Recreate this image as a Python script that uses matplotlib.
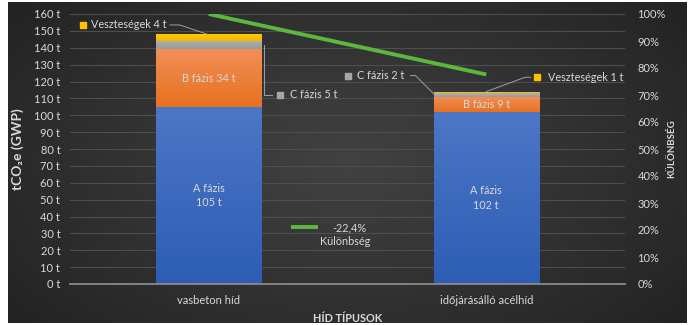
import numpy as np
import matplotlib
matplotlib.use("Agg")
import matplotlib.pyplot as plt
from matplotlib.colors import to_rgb

plt.rcParams['font.family'] = ['Lato', 'DejaVu Sans']

# ---- data ----
categories = ["vasbeton híd", "időjárásálló acélhíd"]
phase_a = [105, 102]
phase_b = [34, 9]
phase_c = [5, 2]
losses = [4, 1]
difference_pct = [100, 77.6]
left_ticks = list(range(0, 161, 10))
right_ticks = list(range(0, 101, 10))

TXT = "#d9d9d9"
SERIES = [
    (phase_a, ("#4d77c6", "#2d5db5")),
    (phase_b, ("#f28f58", "#e7711f")),
    (phase_c, ("#b0b0b0", "#9a9a9a")),
    (losses, ("#ffc800", "#f5b800")),
]
C_C, C_V = "#a5a5a5", "#ffc000"
GREEN = "#5cb83c"

W, H = 691, 325
fig = plt.figure(figsize=(W / 100, H / 100), dpi=100, facecolor="white")

# dark background panel with radial gradient
bg = fig.add_axes([8 / W, 2 / H, 679 / W, 321 / H])
yy, xx = np.mgrid[0:1:200j, 0:1:400j]
r = np.sqrt(((xx - 0.5) / 0.75) ** 2 + ((yy - 0.5) / 0.9) ** 2)
r = np.clip(r, 0, 1)
c0 = np.array([0x42, 0x42, 0x42]) / 255
c1 = np.array([0x1e, 0x1e, 0x1e]) / 255
img = c0[None, None, :] * (1 - r[..., None]) + c1[None, None, :] * r[..., None]
bg.imshow(img, aspect="auto", extent=[0, 1, 0, 1])
bg.set_axis_off()

ax = fig.add_axes([70 / W, 41 / H, 555 / W, 270 / H])
ax.set_facecolor("none")
x = np.arange(len(categories))
bw = 0.38
bottoms = np.zeros(len(categories))
for vals, (ctop, cbot) in SERIES:
    bars = ax.bar(x, vals, bw, bottom=bottoms, color=ctop, zorder=3)
    bottoms = bottoms + np.array(vals)
    t = np.linspace(0, 1, 64)[:, None, None]
    grad = np.array(to_rgb(ctop))[None, None, :] * (1 - t) + np.array(to_rgb(cbot))[None, None, :] * t
    for p in bars:
        x0, y0 = p.get_x(), p.get_y()
        im = ax.imshow(grad, extent=[x0, x0 + p.get_width(), y0, y0 + p.get_height()],
                       aspect="auto", zorder=3.1, interpolation="bilinear")
        im.set_clip_path(p)
totals = bottoms

ax.set_xlim(-0.5, 1.5)
ax.set_ylim(0, 160)
ax.set_yticks(left_ticks)
ax.set_yticklabels([f"{v} t" for v in left_ticks])
ax.set_xticks(x)
ax.set_xticklabels(categories)
ax.tick_params(axis="both", colors=TXT, labelsize=8, length=0)
ax.tick_params(axis="y", pad=7)
ax.tick_params(axis="x", pad=8)
ax.grid(axis="y", color="#4e4e4e", linewidth=0.8, zorder=0)
for s in ["top", "right", "left"]:
    ax.spines[s].set_visible(False)
ax.spines["bottom"].set_color("#8a8a8a")
ax.spines["bottom"].set_linewidth(1.3)
ax.spines["bottom"].set_zorder(4)

# in-bar labels
for i in x:
    ax.text(i, phase_a[i] / 2, f"A fázis\n{phase_a[i]} t", ha="center", va="center",
            color=TXT, fontsize=7.8, zorder=5, linespacing=1.4)
    ax.text(i, phase_a[i] + phase_b[i] / 2, f"B fázis {phase_b[i]} t", ha="center",
            va="center", color=TXT, fontsize=7.8, zorder=5)

def sq(xd, yd, col):
    ax.plot([xd], [yd], marker="s", ms=4.5, color=col, ls="none", zorder=6, clip_on=False)

lc = "#a0a0a0"
# Veszteségek 4 t (bar 0)
sq(-0.453, 153.5, C_V)
ax.text(-0.423, 153.5, f"Veszteségek {losses[0]} t", color=TXT, fontsize=7.8, va="center")
ax.plot([-0.14, -0.105, -0.005], [153.5, 153.5, totals[0]], color=lc, lw=0.7, zorder=6)
# C fázis 5 t (bar 0)
yc0 = phase_a[0] + phase_b[0] + phase_c[0] / 2
sq(0.258, 112, C_C)
ax.text(0.292, 112, f"C fázis {phase_c[0]} t", color=TXT, fontsize=7.8, va="center")
ax.plot([0.198, 0.198, 0.228], [yc0, 112, 112], color=lc, lw=0.7, zorder=2)
# C fázis 2 t (bar 1)
sq(0.5, 123.5, C_C)
ax.text(0.535, 123.5, f"C fázis {phase_c[1]} t", color=TXT, fontsize=7.8, va="center")
ax.plot([0.728, 0.745, 0.812], [123.5, 123.5, totals[1] - 1.5], color=lc, lw=0.7, zorder=6)
# Veszteségek 1 t (bar 1)
sq(1.183, 122.5, C_V)
ax.text(1.222, 122.5, f"Veszteségek {losses[1]} t", color=TXT, fontsize=7.8, va="center")
ax.plot([1.0, 1.14, 1.16], [totals[1], 122.5, 122.5], color=lc, lw=0.7, zorder=6)

ax.set_ylabel("tCO₂e (GWP)", color=TXT, fontsize=10, fontweight="bold")
ax.yaxis.set_label_coords(-0.082, 0.5)
ax.set_xlabel("HÍD TÍPUSOK", color=TXT, fontsize=7.8, fontweight="bold", labelpad=5)

# secondary axis
ax2 = ax.twinx()
ax2.set_ylim(0, 100)
ax2.set_yticks(right_ticks)
ax2.set_yticklabels([f"{v}%" for v in right_ticks])
ax2.tick_params(axis="y", colors=TXT, labelsize=8, length=0, pad=9)
for s in ax2.spines.values():
    s.set_visible(False)
ax2.plot(x, difference_pct, color=GREEN, lw=2.8, solid_capstyle="butt", zorder=5)
ax2.set_ylabel("KÜLÖNBSÉG", color=TXT, fontsize=7, fontweight="bold", rotation=90)
ax2.yaxis.set_label_coords(1.077, 0.5)

# legend (manual)
ax.plot([0.295, 0.395], [33.5, 33.5], color=GREEN, lw=2.8, solid_capstyle="butt", clip_on=False)
pct = (difference_pct[1] - difference_pct[0])
ax.text(0.445, 33.5, f"{pct:.1f}%".replace(".", ","), color=TXT, fontsize=7.8, va="center")
ax.text(0.49, 25.0, "Különbség", color=TXT, fontsize=7.8, va="center", ha="center")

fig.savefig("out.png", dpi=100, facecolor="white")
